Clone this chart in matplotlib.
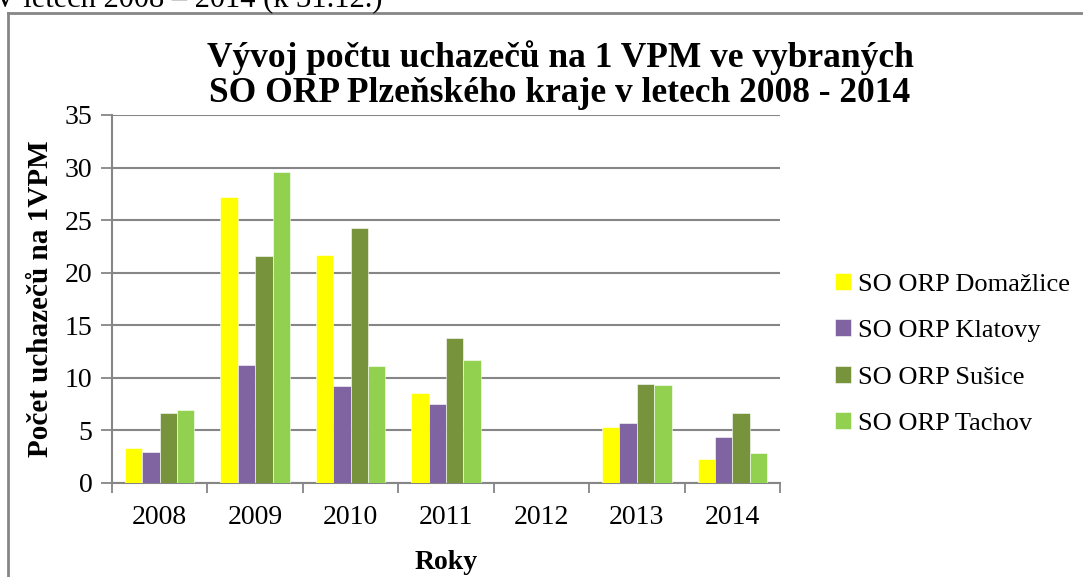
import matplotlib.pyplot as plt
import numpy as np
from matplotlib.lines import Line2D

plt.rcParams['font.family'] = ['Liberation Serif', 'DejaVu Serif']

# data
years = ['2008', '2009', '2010', '2011', '2012', '2013', '2014']
domazlice = [3.33, 27.17, 21.72, 8.56, 0, 5.29, 2.31]
klatovy = [2.95, 11.22, 9.23, 7.52, 0, 5.74, 4.38]
susice = [6.66, 21.6, 24.26, 13.83, 0, 9.45, 6.66]
tachov = [6.97, 29.62, 11.1, 11.73, 0, 9.35, 2.88]

series = [('SO ORP Domažlice', domazlice, '#FFFF00'),
          ('SO ORP Klatovy', klatovy, '#8064A2'),
          ('SO ORP Sušice', susice, '#77933C'),
          ('SO ORP Tachov', tachov, '#92D050')]

W, H = 1083, 577
fig = plt.figure(figsize=(W / 100, H / 100), dpi=100)
ax = fig.add_axes([112 / W, 1 - 483 / H, (780 - 112) / W, (483 - 115) / H])

grey = '#868686'
x = np.arange(len(years))
bw = 0.182
for k, (name, vals, col) in enumerate(series):
    ax.bar(x + (k - 1.5) * bw, vals, bw, color=col, label=name,
           edgecolor='white', linewidth=0.4, zorder=3)

ax.set_xlim(-0.5, len(years) - 0.5)
ax.set_ylim(0, 35)
ax.set_yticks(range(0, 36, 5))
ax.set_xticks(x)
ax.set_xticklabels(years)
ax.set_xticks(np.arange(-0.5, len(years), 1), minor=True)
ax.tick_params(axis='x', which='major', length=0, pad=16, labelsize=20)
ax.tick_params(axis='x', which='minor', length=7, width=1.3, color=grey, direction='out')
ax.tick_params(axis='y', length=8, width=1.3, color=grey, labelsize=20, pad=6)
ax.grid(axis='y', color=grey, linewidth=1.5, zorder=0)
for s in ['top', 'right']:
    ax.spines[s].set_visible(False)
for s in ['left', 'bottom']:
    ax.spines[s].set_color(grey)
    ax.spines[s].set_linewidth(1.5)

ax.set_xlabel('Roky', fontsize=20, fontweight='bold', labelpad=14)
ax.set_ylabel('Počet uchazečů na 1VPM', fontsize=21, fontweight='bold', labelpad=8)

fig.text(560 / W, 1 - 75 / H, 'Vývoj počtu uchazečů na 1 VPM ve vybraných\nSO ORP Plzeňského kraje v letech 2008 - 2014',
         ha='center', va='center', fontsize=25.5, fontweight='bold', linespacing=1.1)

handles, labels = ax.get_legend_handles_labels()
fig.legend(handles, labels, loc='center left', bbox_to_anchor=(811 / W, 1 - 354 / H),
           frameon=False, fontsize=19, handlelength=0.6, handleheight=0.6,
           handletextpad=0.3, labelspacing=0.9)

# clipped caption above the frame
fig.text(-0.006, 1 - 6 / H, 'V letech 2008 – 2014 (k 31.12.)', fontsize=22, va='baseline', ha='left')

# frame around the chart
fig.add_artist(Line2D([8 / W, 1], [1 - 13 / H, 1 - 13 / H], color=grey, linewidth=2))
fig.add_artist(Line2D([8 / W, 8 / W], [0, 1 - 13 / H], color=grey, linewidth=2))

plt.savefig('out.png', dpi=100)
